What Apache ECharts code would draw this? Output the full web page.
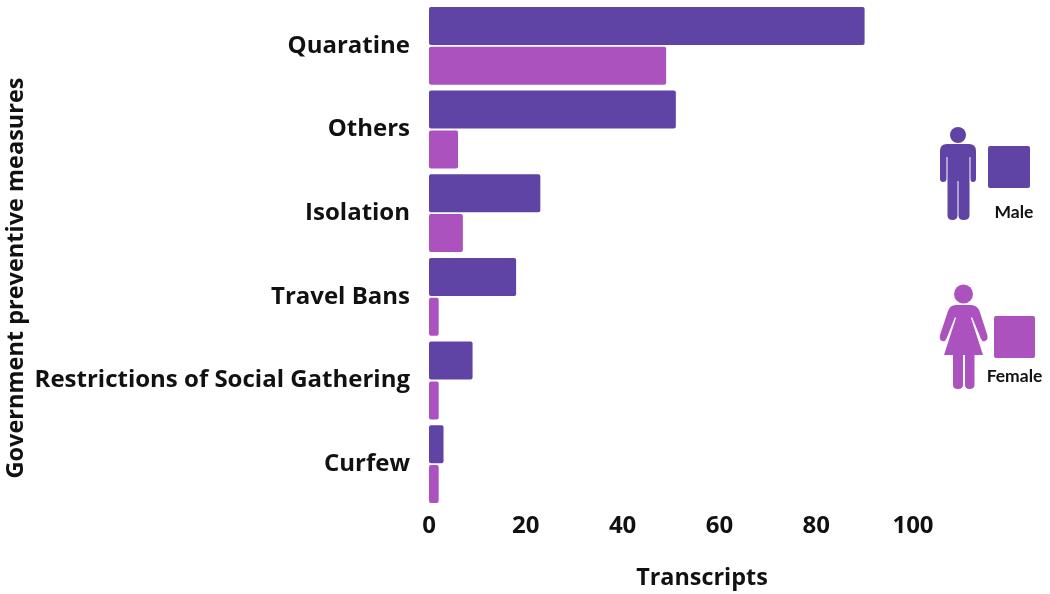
<!DOCTYPE html>
<html>
<head>
<meta charset="utf-8">
<style>html,body{margin:0;padding:0;background:#fff}#c{width:1050px;height:594px}</style>
<script src="https://cdn.jsdelivr.net/npm/echarts@6/dist/echarts.min.js"></script>
</head>
<body>
<div id="c"></div>
<script>
const categories = ['Quaratine','Others','Isolation','Travel Bans','Restrictions of Social Gathering','Curfew'];
const male = [90,51,23,18,9,3];
const female = [49,6,7,2,2,2];
const xTicks = [0,20,40,60,80,100];
const MALE = '#5f43a5', FEMALE = '#ab52bf';
const FONT = '"Open Sans", sans-serif';
const malePath = 'M947 144H969Q976 144 976 151V178.5Q976 182 973 182Q970.5 182 970.5 178.5V157H969.5V216Q969 220 963.5 220Q958.8 220 958.5 216V181H957.5V216Q957 220 952.5 220Q948 220 947.5 216V157H946.5V178.5Q946.5 182 943 182Q940 182 940 178.5V151Q940 144 947 144Z';
const femalePath = 'M956 305H971Q977 305 979.5 311L987.3 335Q988.5 340 985 341Q982 342 980.8 338.5L972 317L971 318L983 355H974.5V385Q974.5 389 969.5 389Q965 389 965 385V355H963V385Q963 389 958 389Q953 389 953 385V355H944L956 318L955 317L946.5 338.5Q945 342 942 341Q939 340 940 335L948 311Q950 305 956 305Z';
echarts.graphic.registerShape('maleFigure', echarts.graphic.extendPath(malePath));
echarts.graphic.registerShape('femaleFigure', echarts.graphic.extendPath(femalePath));
const chart = echarts.init(document.getElementById('c'));
chart.setOption({
  animation:false,
  backgroundColor:'#fff',
  grid:{left:429,width:484,top:4,height:502,outerBoundsMode:'none'},
  xAxis:{type:'value',min:0,max:100,interval:20,
    name:'Transcripts',nameLocation:'middle',nameGap:61,
    nameTextStyle:{fontFamily:FONT,fontWeight:'bold',fontSize:23.4,color:'#111',padding:[0,0,0,62]},
    axisLine:{show:false},axisTick:{show:false},splitLine:{show:false},
    axisLabel:{margin:8,fontFamily:FONT,fontWeight:'bold',fontSize:24,color:'#111',
      customValues:xTicks,hideOverlap:false,formatter:v=>String(v)}},
  yAxis:{type:'category',inverse:true,data:categories,
    name:'Government preventive measures',nameLocation:'middle',nameGap:401,nameRotate:90,
    nameTextStyle:{fontFamily:FONT,fontWeight:'bold',fontSize:23.5,color:'#111',padding:[0,46,0,0]},
    axisLine:{show:false},axisTick:{show:false},splitLine:{show:false},
    axisLabel:{margin:19,interval:0,fontFamily:FONT,fontWeight:'bold',fontSize:24,color:'#111',padding:[0,0,6,0]}},
  series:[
    {name:'Male',type:'bar',data:male,barWidth:38,barGap:'5%',itemStyle:{color:MALE,borderRadius:2}},
    {name:'Female',type:'bar',data:female,barWidth:38,itemStyle:{color:FEMALE,borderRadius:2}}
  ],
  graphic:[
    {type:'circle',shape:{cx:958,cy:135,r:8},style:{fill:MALE}},
    {type:'maleFigure',style:{fill:MALE}},
    {type:'rect',shape:{x:988,y:146,width:42,height:42,r:2},style:{fill:MALE}},
    {type:'text',style:{x:1014,y:212,text:'Male',fill:'#111',font:'bold 17.5px Lato',textAlign:'center',textVerticalAlign:'middle'}},
    {type:'circle',shape:{cx:963.5,cy:294,r:9.5},style:{fill:FEMALE}},
    {type:'femaleFigure',style:{fill:FEMALE}},
    {type:'rect',shape:{x:994,y:316,width:41,height:42,r:2},style:{fill:FEMALE}},
    {type:'text',style:{x:1014.5,y:376,text:'Female',fill:'#111',font:'bold 17.5px Lato',textAlign:'center',textVerticalAlign:'middle'}}
  ]
});
</script>
</body>
</html>
